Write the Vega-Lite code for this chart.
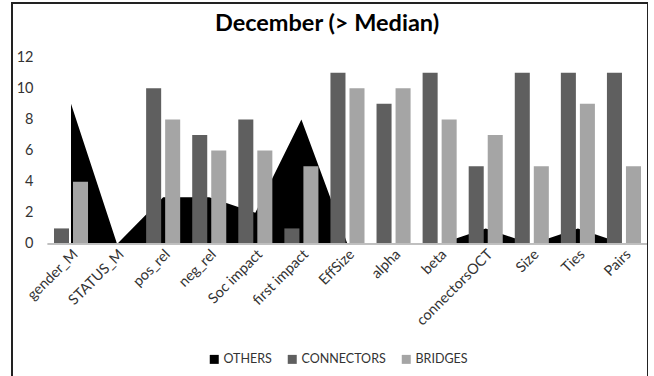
{
  "$schema": "https://vega.github.io/schema/vega-lite/v6.json",
  "autosize": "none",
  "padding": {"left": 12, "top": 3, "right": 0, "bottom": 0},
  "width": 636,
  "height": 377,
  "background": "white",
  "title": {
    "text": "December (> Median)",
    "font": "Lato",
    "fontSize": 23.5,
    "fontWeight": "bold",
    "color": "#000000",
    "anchor": "middle",
    "frame": "group",
    "offset": -32,
    "dx": -3
  },
  "config": {
    "font": "Lato",
    "view": {"stroke": "#222222", "strokeWidth": 2},
    "axis": {"labelFont": "Lato", "labelFontSize": 14.5, "labelColor": "#333333", "grid": false, "ticks": false, "domain": false, "title": null},
    "legend": {"labelFont": "Lato", "labelFontSize": 12.5, "labelColor": "#333333"}
  },
  "data": {
    "values": [
      {"category": "gender_M", "series": "OTHERS", "count": 9},
      {"category": "STATUS_M", "series": "OTHERS", "count": 0},
      {"category": "pos_rel", "series": "OTHERS", "count": 3},
      {"category": "neg_rel", "series": "OTHERS", "count": 3},
      {"category": "Soc impact", "series": "OTHERS", "count": 2},
      {"category": "first impact", "series": "OTHERS", "count": 8},
      {"category": "EffSize", "series": "OTHERS", "count": 0},
      {"category": "alpha", "series": "OTHERS", "count": 0},
      {"category": "beta", "series": "OTHERS", "count": 0},
      {"category": "connectorsOCT", "series": "OTHERS", "count": 1},
      {"category": "Size", "series": "OTHERS", "count": 0},
      {"category": "Ties", "series": "OTHERS", "count": 1},
      {"category": "Pairs", "series": "OTHERS", "count": 0},
      {"category": "gender_M", "series": "CONNECTORS", "count": 1},
      {"category": "STATUS_M", "series": "CONNECTORS", "count": 0},
      {"category": "pos_rel", "series": "CONNECTORS", "count": 10},
      {"category": "neg_rel", "series": "CONNECTORS", "count": 7},
      {"category": "Soc impact", "series": "CONNECTORS", "count": 8},
      {"category": "first impact", "series": "CONNECTORS", "count": 1},
      {"category": "EffSize", "series": "CONNECTORS", "count": 11},
      {"category": "alpha", "series": "CONNECTORS", "count": 9},
      {"category": "beta", "series": "CONNECTORS", "count": 11},
      {"category": "connectorsOCT", "series": "CONNECTORS", "count": 5},
      {"category": "Size", "series": "CONNECTORS", "count": 11},
      {"category": "Ties", "series": "CONNECTORS", "count": 11},
      {"category": "Pairs", "series": "CONNECTORS", "count": 11},
      {"category": "gender_M", "series": "BRIDGES", "count": 4},
      {"category": "STATUS_M", "series": "BRIDGES", "count": 0},
      {"category": "pos_rel", "series": "BRIDGES", "count": 8},
      {"category": "neg_rel", "series": "BRIDGES", "count": 6},
      {"category": "Soc impact", "series": "BRIDGES", "count": 6},
      {"category": "first impact", "series": "BRIDGES", "count": 5},
      {"category": "EffSize", "series": "BRIDGES", "count": 10},
      {"category": "alpha", "series": "BRIDGES", "count": 10},
      {"category": "beta", "series": "BRIDGES", "count": 8},
      {"category": "connectorsOCT", "series": "BRIDGES", "count": 7},
      {"category": "Size", "series": "BRIDGES", "count": 5},
      {"category": "Ties", "series": "BRIDGES", "count": 9},
      {"category": "Pairs", "series": "BRIDGES", "count": 5}
    ]
  },
  "layer": [
    {
      "transform": [{"filter": "datum.series === 'OTHERS'"}],
      "mark": {"type": "area", "color": "#000000"},
      "encoding": {
        "x": {
          "field": "category",
          "type": "nominal",
          "scale": {
            "domain": ["gender_M", "STATUS_M", "pos_rel", "neg_rel", "Soc impact", "first impact", "EffSize", "alpha", "beta", "connectorsOCT", "Size", "Ties", "Pairs"],
            "paddingInner": 0,
            "paddingOuter": 0.401,
            "align": 0.973
          },
          "axis": {"orient": "bottom", "offset": -136, "labelAngle": -45, "labelPadding": 3}
        },
        "y": {
          "field": "count",
          "type": "quantitative",
          "scale": {"domain": [-8.735, 15.478], "nice": false, "zero": false},
          "axis": {"values": [0, 2, 4, 6, 8, 10, 12], "offset": -21, "labelPadding": 0}
        },
        "y2": {"datum": 0},
        "color": {
          "field": "series",
          "type": "nominal",
          "scale": {"domain": ["OTHERS", "CONNECTORS", "BRIDGES"], "range": ["#000000", "#5f5f5f", "#a5a5a5"]},
          "legend": {
            "orient": "none",
            "legendX": 196,
            "legendY": 350,
            "direction": "horizontal",
            "title": null,
            "symbolType": "square",
            "symbolSize": 81,
            "symbolStrokeWidth": 0,
            "columnPadding": 14,
            "labelOffset": 3
          }
        }
      }
    },
    {
      "transform": [{"filter": "datum.series !== 'OTHERS'"}],
      "mark": {"type": "bar"},
      "encoding": {
        "x": {"field": "category", "type": "nominal"},
        "xOffset": {
          "field": "series",
          "type": "nominal",
          "scale": {"domain": ["CONNECTORS", "BRIDGES"], "paddingInner": 0.21, "paddingOuter": 0.316}
        },
        "y": {"field": "count", "type": "quantitative"},
        "y2": {"datum": 0},
        "color": {"field": "series", "type": "nominal"}
      }
    },
    {
      "mark": {"type": "rule", "color": "#bfbfbf", "strokeWidth": 1},
      "encoding": {
        "x": {"datum": "gender_M", "bandPosition": 0},
        "x2": {"datum": "Pairs", "bandPosition": 1},
        "y": {"datum": 0}
      }
    }
  ]
}
